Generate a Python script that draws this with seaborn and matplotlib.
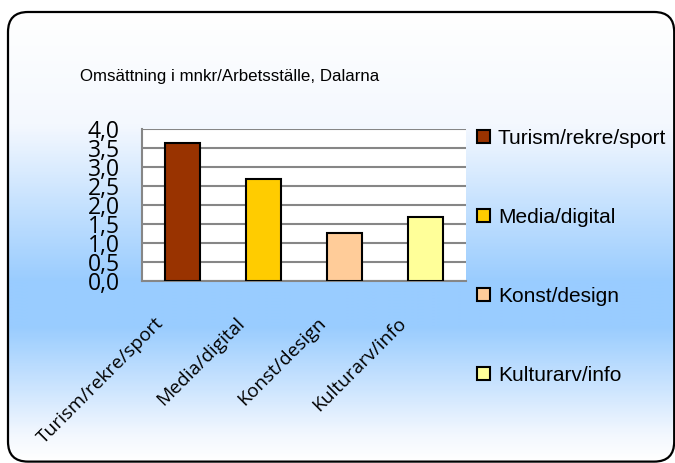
import numpy as np
import pandas as pd
import seaborn as sns
from matplotlib import pyplot as plt
from matplotlib.patches import FancyBboxPatch
from matplotlib.colors import LinearSegmentedColormap
from matplotlib.transforms import ScaledTranslation

# data
categories = ["Turism/rekre/sport", "Media/digital", "Konst/design", "Kulturarv/info"]
values = [3.64, 2.69, 1.27, 1.69]
bar_colors = ["#993300", "#FFCC00", "#FFCC99", "#FFFF99"]
yticks = [0.0, 0.5, 1.0, 1.5, 2.0, 2.5, 3.0, 3.5, 4.0]
ytick_labels = ["0,0", "0,5", "1,0", "1,5", "2,0", "2,5", "3,0", "3,5", "4,0"]
title = "Omsättning i mnkr/Arbetsställe, Dalarna"

df = pd.DataFrame({"kategori": categories, "varde": values})

sns.set_style("white")
plt.rcParams["text.color"] = "black"
plt.rcParams["xtick.labelcolor"] = "black"
plt.rcParams["ytick.labelcolor"] = "black"

W, H = 675, 463
fig = plt.figure(figsize=(W / 100, H / 100), dpi=100)

# background: rounded frame with vertical gradient, pixel coords (y up)
bg = fig.add_axes([0, 0, 1, 1])
bg.set_xlim(0, W)
bg.set_ylim(0, H)
bg.axis("off")
grad = LinearSegmentedColormap.from_list(
    "bg", [(0.0, "#FFFFFF"), (0.25, "#F4F8FE"), (0.6, "#99CCFF"),
           (0.7, "#99CCFF"), (0.94, "#F2F7FE"), (1.0, "#FFFFFF")])
g = np.linspace(0, 1, 300).reshape(-1, 1)
left, top, right, bottom = 8, 12, 674.2, 461.6
frame = FancyBboxPatch((left, H - bottom), right - left, bottom - top,
                       boxstyle="round,pad=0,rounding_size=20",
                       facecolor="none", edgecolor="black", linewidth=1.6, zorder=3)
bg.add_patch(frame)
im = bg.imshow(g, cmap=grad, extent=[left, right, H - bottom, H - top],
               aspect="auto", zorder=1)
im.set_clip_path(frame)

ax = fig.add_axes([142 / W, 1 - 281 / H, (466 - 142) / W, (281 - 129) / H])
ax.set_facecolor("white")
sns.barplot(data=df, x="kategori", y="varde", hue="kategori", palette=bar_colors,
            saturation=1, width=0.43, edgecolor="black", linewidth=1.5,
            legend=True, ax=ax, zorder=3)

ax.set_ylim(0, 4)
ax.set_xlim(-0.5, 3.5)
ax.set_yticks(yticks)
ax.set_yticklabels(ytick_labels, fontfamily="Open Sans", fontsize=16.5)
ax.yaxis.grid(True, color="#868686", linewidth=1.5)
ax.set_axisbelow(True)
ax.tick_params(axis="y", length=5, width=1.5, color="#868686", pad=11)

ax.set_xticks(range(len(categories)))
ax.set_xticklabels(categories, rotation=45, ha="right", va="top",
                   rotation_mode="anchor", fontfamily="Open Sans", fontsize=13.8)
ax.tick_params(axis="x", length=0, pad=0)
shift = ScaledTranslation(-28 / 100, -33 / 100, fig.dpi_scale_trans)
for lab in ax.get_xticklabels():
    lab.set_transform(lab.get_transform() + shift)
ax.set_xticks(np.arange(-0.5, 4, 1), minor=True)
ax.tick_params(axis="x", which="minor", length=5, width=1.5, color="#868686")

ax.set_xlabel("")
ax.set_ylabel("")
for side in ["top", "right"]:
    ax.spines[side].set_visible(False)
for side in ["left", "bottom"]:
    ax.spines[side].set_color("#868686")
    ax.spines[side].set_linewidth(1.5)

handles, labels = ax.get_legend_handles_labels()
ax.get_legend().remove()
fig.legend(handles, labels, loc="upper left", bbox_to_anchor=(477 / W, 1 - 129 / H),
           frameon=False, borderpad=0, borderaxespad=0, handlelength=0.6,
           handleheight=0.6, handletextpad=0.4, labelspacing=2.88,
           prop={"family": "Liberation Sans", "size": 15})

fig.text(80 / W, 1 - 77 / H, title, fontfamily="Liberation Sans", fontsize=12.2,
         va="center", ha="left")

fig.savefig("out.png", dpi=100)
